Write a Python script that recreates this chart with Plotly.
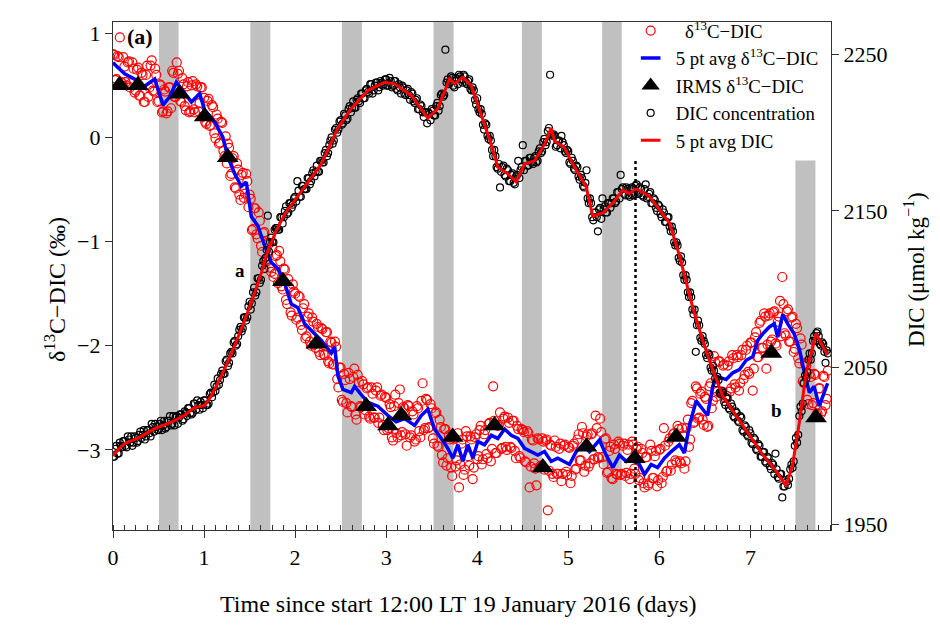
import numpy as np
import plotly.graph_objects as go

# ---------------- data ----------------
# continuous records sampled every 0.025 d; set "a" starts at day 0, set "b" is
# interleaved half a step later
t_step = 0.025
n_samples = 315
t_a = np.round(np.arange(n_samples) * t_step, 4)
t_b = np.round(t_a[:-1] + t_step / 2, 4)

d13c_a = [
    0.80, 0.55, 0.78, 0.96, 0.52, 0.68, 0.50, 0.73, 0.52, 0.66,
    0.45, 0.67, 0.40, 0.60, 0.34, 0.69, 0.48, 0.74, 0.44, 0.60,
    0.35, 0.50, 0.25, 0.44, 0.25, 0.48, 0.64, 0.39, 0.72, 0.64,
    0.34, 0.51, 0.26, 0.53, 0.25, 0.54, 0.24, 0.49, 0.33, 0.48,
    0.38, 0.13, 0.37, 0.12, 0.29, -0.01, 0.18, -0.05, 0.14, -0.18,
    -0.25, -0.10, -0.35, -0.18, -0.49, -0.31, -0.60, -0.34, -0.54, -0.42,
    -0.55, -0.89, -0.68, -0.93, -0.72, -1.04, -0.92, -1.18, -1.01, -1.25,
    -1.06, -1.31, -1.13, -1.09, -1.43, -1.26, -1.56, -1.36, -1.68, -1.41,
    -1.50, -1.73, -1.53, -1.85, -1.60, -1.91, -1.69, -2.00, -1.77, -2.02,
    -1.82, -2.09, -1.84, -2.09, -1.87, -2.17, -1.97, -2.18, -2.01, -2.40,
    -2.21, -2.54, -2.33, -2.64, -2.32, -2.59, -2.22, -2.71, -2.35, -2.59,
    -2.37, -2.62, -2.40, -2.70, -2.46, -2.69, -2.40, -2.69, -2.47, -2.81,
    -2.50, -2.79, -2.59, -2.91, -2.47, -2.88, -2.42, -2.83, -2.60, -2.96,
    -2.58, -2.86, -2.66, -2.90, -2.60, -2.88, -2.36, -2.79, -2.52, -2.78,
    -2.60, -2.94, -2.64, -2.97, -2.78, -3.12, -2.80, -3.08, -2.90, -3.25,
    -2.89, -3.10, -3.36, -2.94, -3.24, -2.82, -3.06, -2.87, -3.28, -2.88,
    -3.09, -2.81, -3.14, -2.85, -3.04, -2.75, -3.11, -2.39, -3.03, -2.77,
    -2.64, -2.98, -2.68, -3.00, -2.74, -2.98, -2.72, -3.08, -2.80, -3.08,
    -2.81, -3.11, -2.82, -3.36, -2.90, -3.13, -3.34, -2.90, -3.15, -2.92,
    -2.91, -3.58, -2.95, -3.23, -2.91, -3.23, -2.99, -3.30, -2.96, -3.21,
    -2.97, -3.32, -2.96, -3.19, -2.90, -3.10, -2.78, -3.21, -2.87, -3.16,
    -2.85, -3.09, -2.67, -3.07, -2.70, -3.07, -2.90, -3.22, -3.01, -3.27,
    -2.95, -3.23, -2.92, -3.24, -2.96, -3.25, -3.00, -3.28, -2.92, -3.18,
    -2.99, -3.29, -2.99, -3.32, -3.07, -3.34, -2.95, -3.27, -3.06, -3.35,
    -3.00, -3.32, -2.79, -3.21, -2.92, -3.20, -2.85, -3.10, -2.77, -3.11,
    -2.79, -3.18, -2.79, -2.97, -2.55, -2.74, -2.39, -2.70, -2.46, -2.71,
    -2.49, -2.78, -2.39, -2.60, -2.10, -2.49, -2.15, -2.46, -2.19, -2.50,
    -2.19, -2.44, -2.09, -2.37, -2.09, -2.43, -2.09, -2.32, -2.04, -2.25,
    -1.97, -2.43, -1.92, -2.11, -1.78, -2.02, -1.69, -2.22, -1.71, -1.96,
    -1.68, -1.98, -1.77, -1.57, -1.34, -1.88, -1.67, -1.96, -1.73, -2.06,
    -1.79, -2.12, -1.93, -2.34, -2.17, -2.52, -2.27, -2.57, -2.27, -2.66,
    -2.41, -2.65, -2.29, -2.57, -2.24,
]

d13c_b = [
    0.79, 0.56, 0.77, 0.53, 0.77, 0.53, 0.72, 0.48, 0.72, 0.43,
    0.65, 0.40, 0.62, 0.34, 0.60, 0.39, 0.69, 0.45, 0.66, 0.34,
    0.51, 0.24, 0.46, 0.23, 0.48, 0.28, 0.62, 0.39, 0.61, 0.35,
    0.57, 0.30, 0.49, 0.24, 0.50, 0.27, 0.51, 0.25, 0.48, 0.20,
    0.15, 0.35, 0.11, 0.31, 0.04, 0.22, -0.06, 0.15, -0.13, 0.01,
    -0.06, -0.37, -0.20, -0.48, -0.25, -0.55, -0.36, -0.58, -0.35, -0.67,
    -0.59, -0.88, -0.68, -0.97, -0.80, -1.10, -0.91, -1.19, -1.02, -1.29,
    -1.34, -1.14, -1.40, -1.19, -1.46, -1.27, -1.60, -1.44, -1.71, -1.48,
    -1.75, -1.52, -1.80, -1.64, -1.93, -1.72, -1.96, -1.73, -1.99, -1.79,
    -2.06, -1.83, -2.08, -1.87, -2.15, -1.96, -2.18, -1.96, -2.32, -2.21,
    -2.52, -2.27, -2.55, -2.26, -2.58, -2.30, -2.66, -2.28, -2.58, -2.34,
    -2.66, -2.41, -2.68, -2.40, -2.69, -2.43, -2.74, -2.48, -2.76, -2.49,
    -2.81, -2.56, -2.88, -2.58, -2.84, -2.55, -2.86, -2.59, -2.85, -2.57,
    -2.88, -2.63, -2.92, -2.58, -2.82, -2.53, -2.81, -2.51, -2.79, -2.56,
    -2.89, -2.65, -2.96, -2.71, -3.05, -2.80, -3.15, -2.86, -3.17, -2.90,
    -3.16, -2.84, -3.14, -2.90, -3.19, -2.87, -3.15, -2.90, -3.17, -2.85,
    -3.06, -2.77, -3.09, -2.81, -3.08, -2.74, -2.99, -2.72, -3.03, -2.76,
    -2.99, -2.70, -2.97, -2.69, -2.97, -2.72, -3.01, -2.77, -3.06, -2.80,
    -2.83, -3.12, -2.84, -3.16, -2.91, -3.18, -2.89, -3.16, -2.89, -3.19,
    -2.90, -3.20, -2.96, -3.26, -2.97, -3.23, -2.94, -3.23, -2.95, -3.24,
    -2.98, -3.25, -2.94, -3.18, -2.85, -3.10, -2.84, -3.15, -2.85, -3.13,
    -2.84, -3.09, -2.79, -3.08, -2.83, -3.14, -2.89, -3.21, -2.97, -3.28,
    -2.99, -3.24, -2.94, -3.23, -2.94, -3.22, -2.95, -3.23, -2.95, -3.23,
    -2.97, -3.27, -3.03, -3.36, -3.07, -3.32, -3.01, -3.27, -3.01, -3.29,
    -2.99, -3.26, -2.96, -3.20, -2.89, -3.14, -2.84, -3.12, -2.80, -3.13,
    -2.86, -3.11, -2.71, -2.90, -2.53, -2.73, -2.41, -2.69, -2.44, -2.76,
    -2.51, -2.77, -2.36, -2.53, -2.16, -2.44, -2.15, -2.44, -2.18, -2.48,
    -2.15, -2.41, -2.12, -2.40, -2.11, -2.36, -2.04, -2.28, -2.00, -2.27,
    -1.97, -2.22, -1.87, -2.11, -1.76, -2.02, -1.72, -1.99, -1.69, -1.94,
    -1.67, -2.00, -1.72, -1.91, -1.60, -1.90, -1.65, -1.96, -1.72, -2.03,
    -1.83, -2.17, -1.99, -2.36, -2.19, -2.56, -2.30, -2.55, -2.28, -2.65,
    -2.41, -2.63, -2.30, -2.51,
]

dic_a = [
    1993, 1998, 1995, 2002, 1999, 2003, 1999, 2004, 2006, 2002,
    2005, 2003, 2009, 2007, 2004, 2010, 2008, 2014, 2009, 2012,
    2010, 2016, 2013, 2011, 2016, 2019, 2014, 2013, 2019, 2018,
    2020, 2017, 2021, 2024, 2021, 2021, 2027, 2029, 2023, 2026,
    2029, 2026, 2027, 2034, 2034, 2035, 2043, 2042, 2048, 2046,
    2055, 2053, 2060, 2066, 2064, 2070, 2076, 2075, 2082, 2082,
    2092, 2091, 2101, 2098, 2107, 2106, 2118, 2120, 2147, 2130,
    2130, 2138, 2139, 2138, 2146, 2146, 2153, 2149, 2155, 2154,
    2159, 2169, 2159, 2166, 2164, 2164, 2171, 2169, 2176, 2175,
    2175, 2182, 2181, 2187, 2185, 2192, 2197, 2195, 2203, 2202,
    2208, 2206, 2211, 2209, 2217, 2216, 2216, 2221, 2220, 2225,
    2222, 2227, 2226, 2231, 2225, 2230, 2232, 2229, 2232, 2231,
    2234, 2230, 2233, 2230, 2233, 2227, 2229, 2230, 2225, 2227,
    2224, 2226, 2220, 2221, 2215, 2218, 2213, 2213, 2206, 2212,
    2215, 2211, 2217, 2214, 2224, 2223, 2253, 2234, 2232, 2235,
    2229, 2234, 2237, 2234, 2237, 2232, 2233, 2228, 2229, 2221,
    2222, 2213, 2212, 2202, 2205, 2196, 2195, 2185, 2185, 2177,
    2165, 2178, 2173, 2177, 2169, 2173, 2168, 2172, 2182, 2176,
    2192, 2182, 2179, 2184, 2181, 2184, 2181, 2188, 2187, 2194,
    2192, 2201, 2237, 2198, 2198, 2192, 2195, 2198, 2192, 2187,
    2188, 2180, 2182, 2176, 2178, 2170, 2171, 2165, 2176, 2155,
    2155, 2144, 2149, 2137, 2152, 2158, 2153, 2149, 2155, 2155,
    2158, 2156, 2162, 2173, 2165, 2160, 2164, 2159, 2165, 2161,
    2167, 2161, 2164, 2159, 2167, 2159, 2162, 2155, 2157, 2150,
    2153, 2146, 2149, 2143, 2146, 2137, 2137, 2128, 2128, 2118,
    2117, 2106, 2106, 2095, 2095, 2084, 2060, 2080, 2069, 2070,
    2065, 2056, 2058, 2048, 2048, 2040, 2042, 2033, 2034, 2026,
    2030, 2023, 2025, 2018, 2021, 2015, 2018, 2009, 2012, 2006,
    2008, 2001, 2004, 1997, 2000, 1993, 1996, 1989, 1992, 1985,
    1988, 1995, 1980, 1982, 1967, 1974, 1977, 1979, 1988, 1990,
    2005, 2007, 2025, 2027, 2045, 2047, 2059, 2059, 2070, 2072,
    2070, 2064, 2065, 2053, 2059,
]

dic_b = [
    1993, 2000, 1995, 2000, 2003, 2000, 2006, 2002, 2000, 2006,
    2002, 2007, 2005, 2010, 2006, 2010, 2006, 2012, 2014, 2010,
    2014, 2010, 2016, 2012, 2016, 2013, 2019, 2018, 2014, 2020,
    2016, 2022, 2019, 2024, 2020, 2027, 2023, 2026, 2028, 2024,
    2029, 2026, 2033, 2031, 2039, 2038, 2039, 2046, 2046, 2054,
    2051, 2059, 2059, 2067, 2065, 2074, 2073, 2082, 2080, 2089,
    2087, 2098, 2096, 2107, 2104, 2115, 2113, 2125, 2124, 2133,
    2130, 2139, 2138, 2146, 2142, 2150, 2148, 2155, 2152, 2158,
    2156, 2163, 2159, 2166, 2164, 2171, 2167, 2174, 2172, 2179,
    2175, 2182, 2181, 2189, 2187, 2195, 2193, 2202, 2200, 2207,
    2205, 2212, 2208, 2215, 2213, 2220, 2216, 2222, 2219, 2225,
    2222, 2228, 2225, 2231, 2227, 2232, 2227, 2233, 2230, 2234,
    2230, 2235, 2229, 2233, 2228, 2231, 2225, 2229, 2224, 2228,
    2221, 2225, 2219, 2222, 2215, 2217, 2210, 2213, 2213, 2208,
    2214, 2211, 2219, 2217, 2225, 2224, 2232, 2231, 2236, 2230,
    2235, 2231, 2236, 2232, 2236, 2231, 2234, 2227, 2227, 2218,
    2215, 2215, 2205, 2206, 2198, 2198, 2189, 2189, 2178, 2180,
    2175, 2179, 2172, 2176, 2169, 2174, 2167, 2173, 2171, 2178,
    2176, 2182, 2179, 2184, 2180, 2185, 2182, 2190, 2188, 2196,
    2194, 2203, 2199, 2199, 2191, 2195, 2190, 2194, 2188, 2189,
    2181, 2184, 2177, 2179, 2172, 2173, 2166, 2168, 2158, 2158,
    2146, 2149, 2146, 2151, 2145, 2151, 2149, 2155, 2152, 2158,
    2155, 2162, 2158, 2164, 2161, 2165, 2160, 2164, 2160, 2166,
    2161, 2165, 2160, 2164, 2158, 2161, 2155, 2158, 2152, 2154,
    2148, 2151, 2143, 2146, 2140, 2140, 2130, 2130, 2120, 2121,
    2109, 2109, 2098, 2098, 2087, 2087, 2077, 2077, 2067, 2067,
    2058, 2059, 2050, 2051, 2043, 2044, 2034, 2035, 2028, 2031,
    2024, 2027, 2019, 2022, 2016, 2019, 2010, 2013, 2007, 2010,
    2002, 2005, 1998, 2001, 1993, 1996, 1990, 1993, 1987, 1989,
    1982, 1985, 1979, 1982, 1974, 1978, 1975, 1985, 1986, 2000,
    2002, 2019, 2022, 2040, 2043, 2055, 2055, 2067, 2067, 2073,
    2065, 2066, 2060, 2061,
]

# 5 pt running averages
avg_d13c_t = [0.0, 0.02, 0.128, 0.238, 0.312, 0.384, 0.458, 0.549, 0.622, 0.696,
              0.787, 0.861, 0.952, 1.007, 1.116, 1.207, 1.262, 1.336, 1.41, 1.464,
              1.519, 1.592, 1.665, 1.739, 1.811, 1.885, 1.958, 2.031, 2.104, 2.178,
              2.288, 2.397, 2.434, 2.47, 2.525, 2.617, 2.653, 2.708, 2.8, 2.909,
              3.019, 3.11, 3.202, 3.312, 3.385, 3.458, 3.531, 3.605, 3.677, 3.732,
              3.787, 3.842, 3.897, 3.952, 4.007, 4.08, 4.154, 4.226, 4.3, 4.373,
              4.446, 4.52, 4.593, 4.665, 4.739, 4.812, 4.885, 5.013, 5.087, 5.159,
              5.233, 5.342, 5.416, 5.489, 5.562, 5.636, 5.708, 5.78, 5.837, 5.91,
              5.98, 6.056, 6.13, 6.22, 6.275, 6.33, 6.404, 6.476, 6.53, 6.586,
              6.623, 6.733, 6.806, 6.879, 6.953, 7.025, 7.08, 7.135, 7.208, 7.263,
              7.3, 7.355, 7.41, 7.48, 7.54, 7.593, 7.648, 7.7, 7.755, 7.81, 7.848]
avg_d13c = [0.72, 0.70, 0.61, 0.56, 0.47, 0.515, 0.56, 0.31, 0.39, 0.53,
            0.42, 0.34, 0.42, 0.26, 0.15, 0.0, -0.19, -0.35, -0.47, -0.43,
            -0.76, -0.85, -1.04, -1.20, -1.26, -1.40, -1.60, -1.635, -1.79, -1.855,
            -1.95, -2.07, -2.01, -2.29, -2.42, -2.45, -2.39, -2.45, -2.545, -2.58,
            -2.67, -2.73, -2.70, -2.765, -2.67, -2.61, -2.80, -2.89, -2.985, -3.08,
            -2.95, -3.11, -2.95, -3.08, -2.92, -2.95, -2.86, -2.89, -2.80, -2.86,
            -2.89, -2.985, -3.016, -3.05, -3.016, -3.11, -3.08, -3.14, -3.016, -2.95,
            -3.016, -2.905, -3.05, -3.17, -3.05, -3.11, -3.06, -3.14, -3.235, -3.14,
            -3.17, -3.08, -3.016, -2.95, -3.03, -2.765, -2.53, -2.61, -2.67, -2.39,
            -2.29, -2.325, -2.26, -2.23, -2.14, -2.105, -1.95, -1.886, -1.82, -1.79,
            -1.917, -1.70, -1.79, -1.886, -2.04, -2.26, -2.45, -2.39, -2.58, -2.45, -2.36]

avg_dic_t = [0.0, 0.019, 0.128, 0.271, 0.458, 0.641, 0.787, 0.897, 1.007, 1.08,
             1.19, 1.3, 1.409, 1.519, 1.629, 1.701, 1.797, 1.885, 2.104, 2.288,
             2.47, 2.617, 2.8, 2.982, 3.092, 3.276, 3.458, 3.567, 3.696, 3.751,
             3.842, 3.934, 4.044, 4.154, 4.226, 4.336, 4.428, 4.52, 4.629, 4.739,
             4.812, 4.849, 4.958, 5.068, 5.197, 5.269, 5.379, 5.489, 5.598, 5.672,
             5.745, 5.891, 6.0, 6.111, 6.22, 6.294, 6.367, 6.476, 6.586, 6.696,
             6.843, 6.989, 7.135, 7.282, 7.392, 7.464, 7.538, 7.611, 7.721, 7.848]
avg_dic = [1993.5, 1995.3, 2001.5, 2004.7, 2010.9, 2015.1, 2019.5, 2024.5, 2025.8, 2032.0,
           2044.6, 2059.0, 2074.6, 2091.5, 2110.3, 2124.7, 2137.9, 2147.9, 2165.4, 2180.0,
           2203.0, 2215.5, 2227.0, 2232.2, 2231.2, 2223.8, 2209.2, 2215.5, 2234.3, 2231.2,
           2235.4, 2230.0, 2211.3, 2192.5, 2178.0, 2173.7, 2168.5, 2180.0, 2182.0, 2192.5,
           2203.0, 2194.7, 2190.5, 2178.0, 2165.4, 2146.6, 2148.7, 2155.0, 2163.3, 2161.2,
           2164.3, 2159.2, 2150.8, 2142.4, 2121.6, 2104.9, 2088.2, 2067.3, 2048.5, 2031.8,
           2019.3, 2006.8, 1994.3, 1983.8, 1974.4, 1988.0, 2015.1, 2046.4, 2071.5, 2057.9]

# discrete IRMS samples
irms_t = [0.073, 0.274, 0.73, 1.007, 1.26, 1.866, 2.233, 2.78, 3.02, 3.166,
          3.73, 4.19, 4.72, 5.2, 5.73, 6.185, 7.23, 7.72]
irms_d13c = [0.50, 0.50, 0.42, 0.20, -0.19, -1.38, -1.98, -2.58, -2.765, -2.67,
             -2.875, -2.765, -3.17, -2.97, -3.08, -2.875, -2.07, -2.69]

# night periods (days) and event marker
night_start = [0.505, 1.508, 2.514, 3.52, 4.49, 5.372, 7.494]
night_end = [0.72, 1.728, 2.733, 3.74, 4.71, 5.587, 7.714]
event_day = 5.738

# ---------------- figure ----------------
FONT = "Liberation Serif"
Y1_RANGE = [-3.769, 1.108]
Y2_RANGE = [1946.2, 2270.7]
X_RANGE = [0, 7.885]
LEGEND_CLEAR = -0.222   # lower edge of the legend area, in delta units

t_all = np.concatenate([t_a, t_b])
d13c_all = list(d13c_a) + list(d13c_b)
dic_all = list(dic_a) + list(dic_b)

fig = go.Figure()

fig.add_trace(go.Scatter(
    x=t_all, y=dic_all, mode="markers", yaxis="y2",
    marker=dict(symbol="circle-open", size=7, color="black", line=dict(width=1.2)),
    name="DIC concentration", legendrank=4))
fig.add_trace(go.Scatter(
    x=avg_dic_t, y=avg_dic, mode="lines", yaxis="y2",
    line=dict(color="red", width=3), showlegend=False))
fig.add_trace(go.Scatter(
    x=t_all, y=d13c_all, mode="markers",
    marker=dict(symbol="circle-open", size=9, color="red", line=dict(width=1.2)),
    name="\u2002δ<sup>13</sup>C−DIC", legendrank=1))
fig.add_trace(go.Scatter(
    x=avg_d13c_t, y=avg_d13c, mode="lines",
    line=dict(color="blue", width=3.5), showlegend=False))
fig.add_trace(go.Scatter(
    x=irms_t, y=irms_d13c, mode="markers",
    marker=dict(symbol="triangle-up", size=19, color="black"),
    name="IRMS δ<sup>13</sup>C−DIC", legendrank=3))
# legend keys for the two running-average lines
fig.add_trace(go.Scatter(
    x=[None], y=[None], mode="markers",
    marker=dict(symbol="line-ew-open", size=14, color="blue",
                line=dict(color="blue", width=3.5)),
    name="5 pt avg δ<sup>13</sup>C−DIC", legendrank=2))
fig.add_trace(go.Scatter(
    x=[None], y=[None], mode="markers",
    marker=dict(symbol="line-ew-open", size=14, color="red",
                line=dict(color="red", width=3)),
    name="5 pt avg DIC", legendrank=5))

shapes = []
for i, (s, e) in enumerate(zip(night_start, night_end)):
    top = Y1_RANGE[1] if i < len(night_start) - 1 else LEGEND_CLEAR
    shapes.append(dict(type="rect", xref="x", yref="y", x0=s, x1=e,
                       y0=Y1_RANGE[0], y1=top, fillcolor="#c0c0c0",
                       line=dict(width=0), layer="below"))
shapes.append(dict(type="line", xref="x", yref="y", x0=event_day, x1=event_day,
                   y0=Y1_RANGE[0], y1=LEGEND_CLEAR,
                   line=dict(color="black", width=2.5, dash="dot")))

annotations = [
    dict(x=0.30, y=0.967, xref="x", yref="y", text="<b>(a)</b>", showarrow=False,
         font=dict(size=22)),
    dict(x=1.39, y=-1.274, xref="x", yref="y", text="<b>a</b>", showarrow=False,
         font=dict(size=19)),
    dict(x=7.285, y=-2.62, xref="x", yref="y", text="<b>b</b>", showarrow=False,
         font=dict(size=19)),
    # axis titles
    dict(x=0.48, y=-0.145, xref="paper", yref="paper",
         text="Time since start 12:00 LT 19 January 2016 (days)", showarrow=False,
         xanchor="center", yanchor="middle", font=dict(size=24)),
    dict(x=-0.081, y=0.474, xref="paper", yref="paper", textangle=-90,
         text="δ<sup>13</sup>C−DIC (‰)", showarrow=False,
         xanchor="center", yanchor="middle", font=dict(size=24)),
    dict(x=1.117, y=0.512, xref="paper", yref="paper", textangle=-90,
         text="DIC (μmol kg<sup>−1</sup>)", showarrow=False,
         xanchor="center", yanchor="middle", font=dict(size=23)),
]

axis_common = dict(showline=True, linecolor="#333", linewidth=1.2, ticks="outside",
                   ticklen=7, tickcolor="#333", showgrid=False, zeroline=False,
                   automargin=False)

fig.update_layout(
    width=932, height=622,
    margin=dict(l=105, r=109, t=4, b=100),
    plot_bgcolor="white", paper_bgcolor="white",
    font=dict(family=FONT, size=22, color="black"),
    shapes=shapes, annotations=annotations,
    legend=dict(x=0.714, y=1.02, xanchor="left", yanchor="top",
                bgcolor="rgba(0,0,0,0)", font=dict(size=18.8), itemwidth=40,
                tracegroupgap=0),
    xaxis=dict(range=X_RANGE, tickvals=list(range(8)), mirror=True,
               minor=dict(dtick=0.125, tick0=0, ticks="inside", ticklen=5,
                          tickcolor="#333"),
               **axis_common),
    yaxis=dict(range=Y1_RANGE, tickvals=[-3, -2, -1, 0, 1], **axis_common),
    yaxis2=dict(range=Y2_RANGE, tickvals=[1950, 2050, 2150, 2250], overlaying="y",
                side="right", **axis_common),
)

fig.write_html("out.html")
